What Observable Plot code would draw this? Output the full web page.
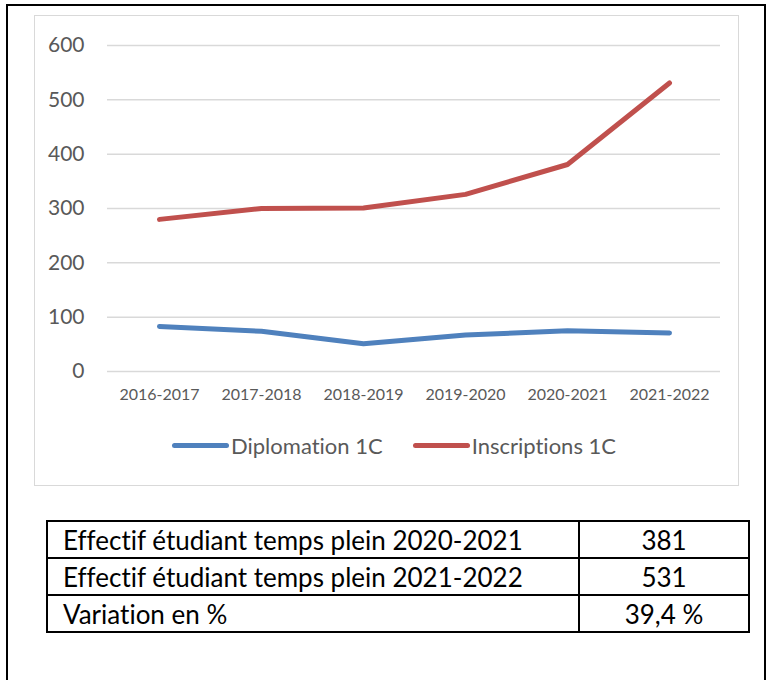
<!DOCTYPE html>
<html>
<head>
<meta charset="utf-8">
<script src="https://cdn.jsdelivr.net/npm/d3@7"></script>
<script src="https://cdn.jsdelivr.net/npm/@observablehq/plot@0.6"></script>
<style>
  body { margin: 0; background: #fff; font-family: Lato, "Open Sans", sans-serif; font-variant-ligatures: none; }
  svg, svg text { font-variant-ligatures: none; }
  #page { position: relative; width: 770px; height: 680px; overflow: hidden; }
  #outer { position: absolute; left: 6px; top: 4px; width: 760px; height: 720px; border: 2px solid #000; box-sizing: border-box; }
  #frame { position: absolute; left: 34px; top: 15px; width: 705px; height: 471px; border: 1px solid #d9d9d9; box-sizing: border-box; }
  #chart { position: absolute; left: 0; top: 0; }
  #legend { position: absolute; left: 137px; top: 416px; display: flex; align-items: center; font-size: 22px; color: #595959; white-space: nowrap; }
  .sw { display: inline-block; width: 57px; height: 5px; border-radius: 3px; margin-right: 2px; }
  .item { display: flex; align-items: center; margin-right: 30px; }
  table { position: absolute; left: 46px; top: 520px; width: 704px; border-collapse: collapse; font-size: 26px; color: #000; }
  td { border: 2px solid #000; height: 37px; padding: 0 0 0 15px; box-sizing: border-box; line-height: 1; }
  td.v { text-align: center; padding: 0; width: 170px; }
</style>
</head>
<body>
<div id="page">
  <div id="outer"></div>
  <div id="frame">
    <div id="chart"></div>
    <div id="legend"></div>
  </div>
  <table id="tbl"></table>
</div>
<script>
const years = ["2016-2017", "2017-2018", "2018-2019", "2019-2020", "2020-2021", "2021-2022"];
const diplomation = [83, 74, 51, 67, 75, 71];
const inscriptions = [280, 300, 301, 326, 381, 531];
const yTicks = [0, 100, 200, 300, 400, 500, 600];
const seriesNames = ["Diplomation 1C", "Inscriptions 1C"];
const seriesColors = ["#4f81bd", "#c0504d"];
const tableLabels = ["Effectif étudiant temps plein 2020-2021", "Effectif étudiant temps plein 2021-2022", "Variation en %"];
const tableValues = ["381", "531", "39,4 %"];

const rows = [];
[diplomation, inscriptions].forEach((vals, s) => {
  years.forEach((yr, i) => rows.push({ year: yr, value: vals[i], series: seriesNames[s] }));
});

const chart = Plot.plot({
  width: 703,
  height: 400,
  marginLeft: 72,
  marginRight: 18,
  marginTop: 29,
  marginBottom: 45,
  style: { color: "#595959", fontFamily: "Lato, 'Open Sans', sans-serif", background: "transparent", overflow: "visible" },
  x: { type: "point", domain: years, padding: 0.5, label: null },
  y: { domain: [0, 600], label: null },
  color: { domain: seriesNames, range: seriesColors },
  marks: [
    Plot.ruleY(yTicks, { stroke: "#d9d9d9", strokeWidth: 1.5 }),
    Plot.axisY({ ticks: yTicks, tickSize: 0, tickPadding: 23, fontSize: 21, label: null }),
    Plot.axisX({ tickSize: 0, tickPadding: 17, fontSize: 16, label: null }),
    Plot.line(rows, { x: "year", y: "value", z: "series", stroke: "series", strokeWidth: 5, strokeLinecap: "round", strokeLinejoin: "round" })
  ]
});
document.getElementById("chart").appendChild(chart);

const legend = document.getElementById("legend");
seriesNames.forEach((n, i) => {
  const it = document.createElement("div");
  it.className = "item";
  const sw = document.createElement("span");
  sw.className = "sw";
  sw.style.background = seriesColors[i];
  const t = document.createElement("span");
  t.textContent = n;
  it.appendChild(sw); it.appendChild(t);
  legend.appendChild(it);
});

const tbl = document.getElementById("tbl");
tableLabels.forEach((lab, i) => {
  const tr = document.createElement("tr");
  const a = document.createElement("td"); a.textContent = lab;
  const b = document.createElement("td"); b.className = "v"; b.textContent = tableValues[i];
  tr.appendChild(a); tr.appendChild(b);
  tbl.appendChild(tr);
});
</script>
</body>
</html>
